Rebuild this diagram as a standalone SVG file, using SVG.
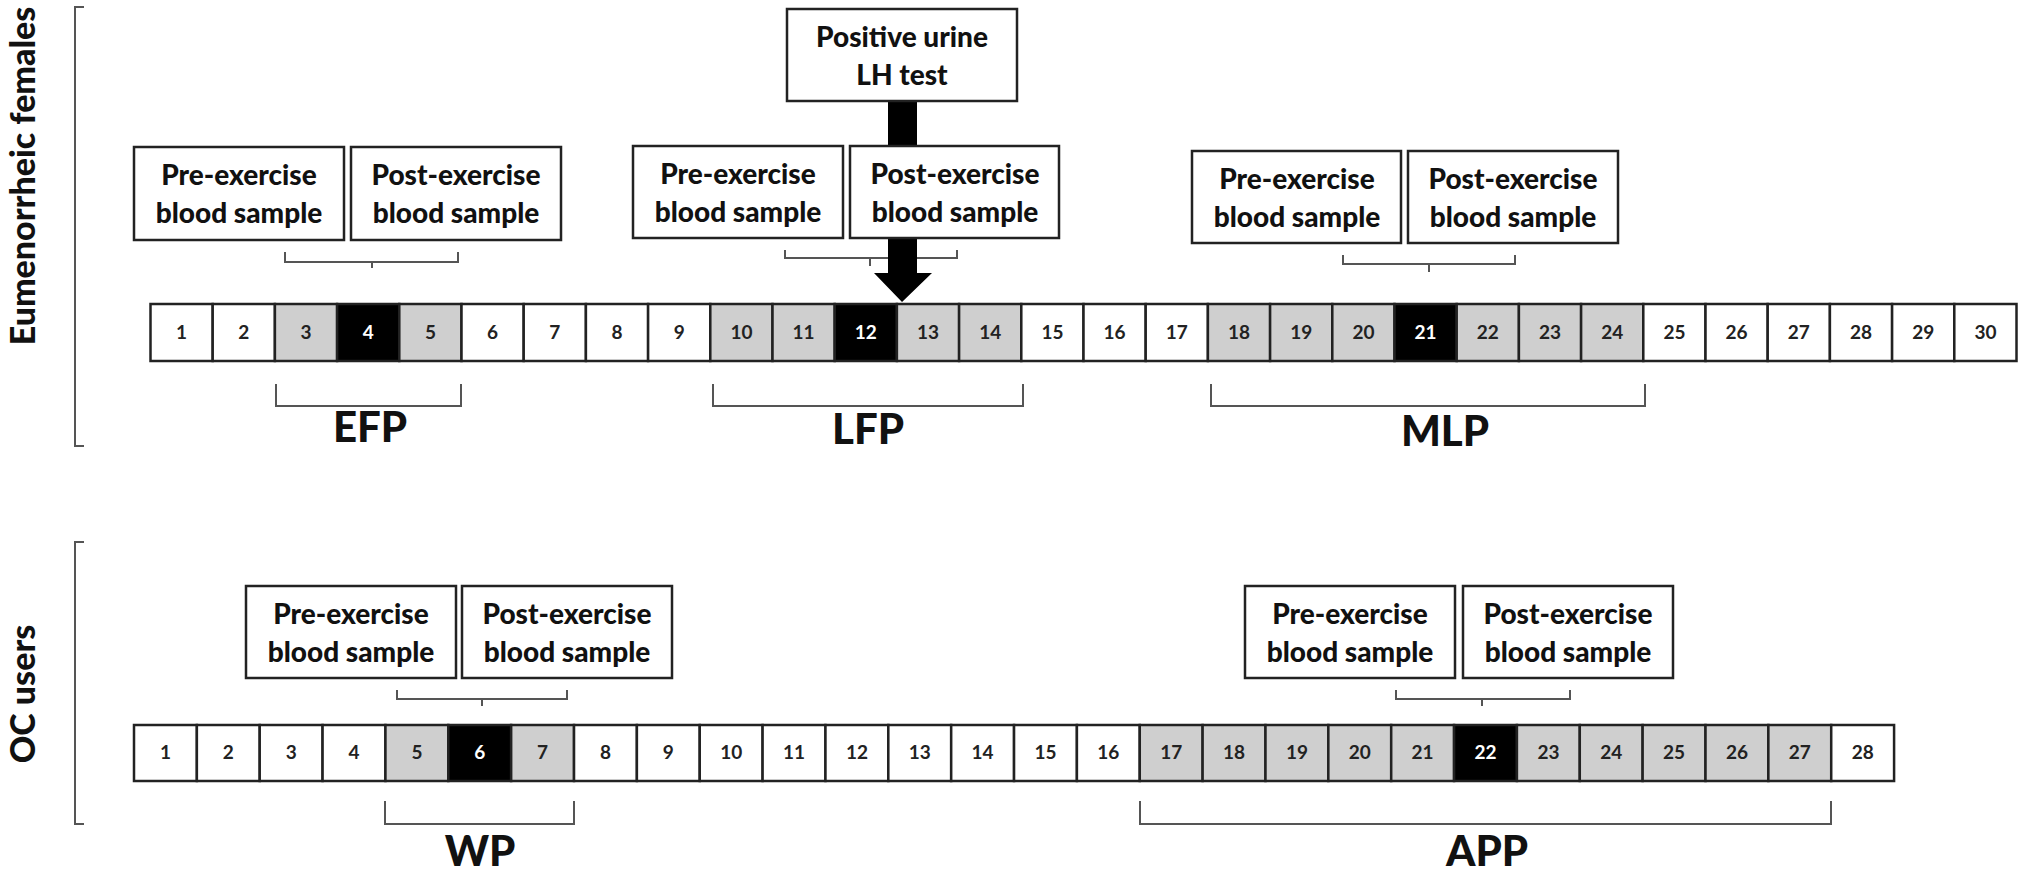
<svg xmlns="http://www.w3.org/2000/svg" width="2032" height="878" viewBox="0 0 2032 878">
<style>
.bg{fill:#fff}
.box{fill:#fff;stroke:#222;stroke-width:2.5}
.bt{font-family:Lato,"Open Sans",sans-serif;font-weight:900;font-size:28px;fill:#111;text-anchor:middle}
.c{stroke:#222;stroke-width:2.5}
.w{fill:#fff}.g{fill:#cfcfcf}.k{fill:#000}
.n{font-family:Lato,"Open Sans",sans-serif;font-weight:bold;font-size:19px;fill:#222;text-anchor:middle}
.nk{fill:#fff}
.br{fill:none;stroke:#555;stroke-width:2}
.pl{font-family:Lato,"Open Sans",sans-serif;font-weight:900;font-size:42px;fill:#111;text-anchor:middle}
.side{font-family:Lato,"Open Sans",sans-serif;font-weight:900;font-size:34px;fill:#111;text-anchor:middle}
</style>
<rect class="bg" width="2032" height="878"/>
<g id="connectors">
<path class="br" d="M84,7 H75 V446 H84"/>
<path class="br" d="M84,542 H75 V824 H84"/>
<path class="br" d="M285,252 V262 H458 V252 M372,262 V268"/>
<path class="br" d="M785,250 V258 H957 V250 M870,258 V266"/>
<path class="br" d="M1343,255 V264 H1515 V255 M1429,264 V272"/>
<path class="br" d="M397,690 V699 H567 V690 M482,699 V706"/>
<path class="br" d="M1396,690 V699 H1570 V690 M1482,699 V706"/>
<path class="br" d="M276,384 V406 H461 V384"/>
<path class="br" d="M713,384 V406 H1023 V384"/>
<path class="br" d="M1211,384 V406 H1645 V384"/>
<path class="br" d="M385,801 V824 H574 V801"/>
<path class="br" d="M1140,801 V824 H1831 V801"/>
<path id="lh-arrow" fill="#000" d="M888,101 H917 V273 H932 L902,302 L874,273 H888 Z"/>
</g>
<text class="side" transform="translate(35,176) rotate(-90)">Eumenorrheic females</text>
<text class="side" transform="translate(35,694) rotate(-90)">OC users</text>
<g id="lh-box"><rect class="box" x="787" y="9" width="230" height="92"/><text class="bt" x="902" y="47">Positive urine</text><text class="bt" x="902" y="85">LH test</text></g>
<g id="efp-pre"><rect class="box" x="134" y="147" width="210" height="93"/><text class="bt" x="239" y="185">Pre-exercise</text><text class="bt" x="239" y="223">blood sample</text></g>
<g id="efp-post"><rect class="box" x="351" y="147" width="210" height="93"/><text class="bt" x="456" y="185">Post-exercise</text><text class="bt" x="456" y="223">blood sample</text></g>
<g id="lfp-pre"><rect class="box" x="633" y="146" width="210" height="92"/><text class="bt" x="738" y="184">Pre-exercise</text><text class="bt" x="738" y="222">blood sample</text></g>
<g id="lfp-post"><rect class="box" x="850" y="146" width="209" height="92"/><text class="bt" x="955" y="184">Post-exercise</text><text class="bt" x="955" y="222">blood sample</text></g>
<g id="mlp-pre"><rect class="box" x="1192" y="151" width="209" height="92"/><text class="bt" x="1297" y="189">Pre-exercise</text><text class="bt" x="1297" y="227">blood sample</text></g>
<g id="mlp-post"><rect class="box" x="1408" y="151" width="210" height="92"/><text class="bt" x="1513" y="189">Post-exercise</text><text class="bt" x="1513" y="227">blood sample</text></g>
<g id="wp-pre"><rect class="box" x="246" y="586" width="210" height="92"/><text class="bt" x="351" y="624">Pre-exercise</text><text class="bt" x="351" y="662">blood sample</text></g>
<g id="wp-post"><rect class="box" x="462" y="586" width="210" height="92"/><text class="bt" x="567" y="624">Post-exercise</text><text class="bt" x="567" y="662">blood sample</text></g>
<g id="app-pre"><rect class="box" x="1245" y="586" width="210" height="92"/><text class="bt" x="1350" y="624">Pre-exercise</text><text class="bt" x="1350" y="662">blood sample</text></g>
<g id="app-post"><rect class="box" x="1463" y="586" width="210" height="92"/><text class="bt" x="1568" y="624">Post-exercise</text><text class="bt" x="1568" y="662">blood sample</text></g>
<g id="cycle-top">
<rect class="c w" x="150.5" y="304" width="62.2" height="57"/><text class="n" x="181.6" y="339">1</text>
<rect class="c w" x="212.7" y="304" width="62.2" height="57"/><text class="n" x="243.8" y="339">2</text>
<rect class="c g" x="274.9" y="304" width="62.2" height="57"/><text class="n" x="306" y="339">3</text>
<rect class="c k" x="337.1" y="304" width="62.2" height="57"/><text class="n nk" x="368.2" y="339">4</text>
<rect class="c g" x="399.3" y="304" width="62.2" height="57"/><text class="n" x="430.4" y="339">5</text>
<rect class="c w" x="461.5" y="304" width="62.2" height="57"/><text class="n" x="492.6" y="339">6</text>
<rect class="c w" x="523.7" y="304" width="62.2" height="57"/><text class="n" x="554.8" y="339">7</text>
<rect class="c w" x="585.9" y="304" width="62.2" height="57"/><text class="n" x="617" y="339">8</text>
<rect class="c w" x="648.1" y="304" width="62.2" height="57"/><text class="n" x="679.2" y="339">9</text>
<rect class="c g" x="710.3" y="304" width="62.2" height="57"/><text class="n" x="741.4" y="339">10</text>
<rect class="c g" x="772.5" y="304" width="62.2" height="57"/><text class="n" x="803.6" y="339">11</text>
<rect class="c k" x="834.7" y="304" width="62.2" height="57"/><text class="n nk" x="865.8" y="339">12</text>
<rect class="c g" x="896.9" y="304" width="62.2" height="57"/><text class="n" x="928" y="339">13</text>
<rect class="c g" x="959.1" y="304" width="62.2" height="57"/><text class="n" x="990.2" y="339">14</text>
<rect class="c w" x="1021.3" y="304" width="62.2" height="57"/><text class="n" x="1052.4" y="339">15</text>
<rect class="c w" x="1083.5" y="304" width="62.2" height="57"/><text class="n" x="1114.6" y="339">16</text>
<rect class="c w" x="1145.7" y="304" width="62.2" height="57"/><text class="n" x="1176.8" y="339">17</text>
<rect class="c g" x="1207.9" y="304" width="62.2" height="57"/><text class="n" x="1239" y="339">18</text>
<rect class="c g" x="1270.1" y="304" width="62.2" height="57"/><text class="n" x="1301.2" y="339">19</text>
<rect class="c g" x="1332.3" y="304" width="62.2" height="57"/><text class="n" x="1363.4" y="339">20</text>
<rect class="c k" x="1394.5" y="304" width="62.2" height="57"/><text class="n nk" x="1425.6" y="339">21</text>
<rect class="c g" x="1456.7" y="304" width="62.2" height="57"/><text class="n" x="1487.8" y="339">22</text>
<rect class="c g" x="1518.9" y="304" width="62.2" height="57"/><text class="n" x="1550" y="339">23</text>
<rect class="c g" x="1581.1" y="304" width="62.2" height="57"/><text class="n" x="1612.2" y="339">24</text>
<rect class="c w" x="1643.3" y="304" width="62.2" height="57"/><text class="n" x="1674.4" y="339">25</text>
<rect class="c w" x="1705.5" y="304" width="62.2" height="57"/><text class="n" x="1736.6" y="339">26</text>
<rect class="c w" x="1767.7" y="304" width="62.2" height="57"/><text class="n" x="1798.8" y="339">27</text>
<rect class="c w" x="1829.9" y="304" width="62.2" height="57"/><text class="n" x="1861" y="339">28</text>
<rect class="c w" x="1892.1" y="304" width="62.2" height="57"/><text class="n" x="1923.2" y="339">29</text>
<rect class="c w" x="1954.3" y="304" width="62.2" height="57"/><text class="n" x="1985.4" y="339">30</text>
</g>
<g id="cycle-bottom">
<rect class="c w" x="134" y="725" width="62.86" height="56"/><text class="n" x="165.4" y="759">1</text>
<rect class="c w" x="196.86" y="725" width="62.86" height="56"/><text class="n" x="228.3" y="759">2</text>
<rect class="c w" x="259.72" y="725" width="62.86" height="56"/><text class="n" x="291.2" y="759">3</text>
<rect class="c w" x="322.58" y="725" width="62.86" height="56"/><text class="n" x="354" y="759">4</text>
<rect class="c g" x="385.44" y="725" width="62.86" height="56"/><text class="n" x="416.9" y="759">5</text>
<rect class="c k" x="448.3" y="725" width="62.86" height="56"/><text class="n nk" x="479.7" y="759">6</text>
<rect class="c g" x="511.16" y="725" width="62.86" height="56"/><text class="n" x="542.6" y="759">7</text>
<rect class="c w" x="574.02" y="725" width="62.86" height="56"/><text class="n" x="605.5" y="759">8</text>
<rect class="c w" x="636.88" y="725" width="62.86" height="56"/><text class="n" x="668.3" y="759">9</text>
<rect class="c w" x="699.74" y="725" width="62.86" height="56"/><text class="n" x="731.2" y="759">10</text>
<rect class="c w" x="762.6" y="725" width="62.86" height="56"/><text class="n" x="794" y="759">11</text>
<rect class="c w" x="825.46" y="725" width="62.86" height="56"/><text class="n" x="856.9" y="759">12</text>
<rect class="c w" x="888.32" y="725" width="62.86" height="56"/><text class="n" x="919.8" y="759">13</text>
<rect class="c w" x="951.18" y="725" width="62.86" height="56"/><text class="n" x="982.6" y="759">14</text>
<rect class="c w" x="1014.04" y="725" width="62.86" height="56"/><text class="n" x="1045.5" y="759">15</text>
<rect class="c w" x="1076.9" y="725" width="62.86" height="56"/><text class="n" x="1108.3" y="759">16</text>
<rect class="c g" x="1139.76" y="725" width="62.86" height="56"/><text class="n" x="1171.2" y="759">17</text>
<rect class="c g" x="1202.62" y="725" width="62.86" height="56"/><text class="n" x="1234" y="759">18</text>
<rect class="c g" x="1265.48" y="725" width="62.86" height="56"/><text class="n" x="1296.9" y="759">19</text>
<rect class="c g" x="1328.34" y="725" width="62.86" height="56"/><text class="n" x="1359.8" y="759">20</text>
<rect class="c g" x="1391.2" y="725" width="62.86" height="56"/><text class="n" x="1422.6" y="759">21</text>
<rect class="c k" x="1454.06" y="725" width="62.86" height="56"/><text class="n nk" x="1485.5" y="759">22</text>
<rect class="c g" x="1516.92" y="725" width="62.86" height="56"/><text class="n" x="1548.4" y="759">23</text>
<rect class="c g" x="1579.78" y="725" width="62.86" height="56"/><text class="n" x="1611.2" y="759">24</text>
<rect class="c g" x="1642.64" y="725" width="62.86" height="56"/><text class="n" x="1674.1" y="759">25</text>
<rect class="c g" x="1705.5" y="725" width="62.86" height="56"/><text class="n" x="1736.9" y="759">26</text>
<rect class="c g" x="1768.36" y="725" width="62.86" height="56"/><text class="n" x="1799.8" y="759">27</text>
<rect class="c w" x="1831.22" y="725" width="62.86" height="56"/><text class="n" x="1862.7" y="759">28</text>
</g>
<text class="pl" x="370" y="442">EFP</text>
<text class="pl" x="868" y="444">LFP</text>
<text class="pl" x="1445" y="446">MLP</text>
<text class="pl" x="480" y="866">WP</text>
<text class="pl" x="1487" y="866">APP</text>
</svg>
